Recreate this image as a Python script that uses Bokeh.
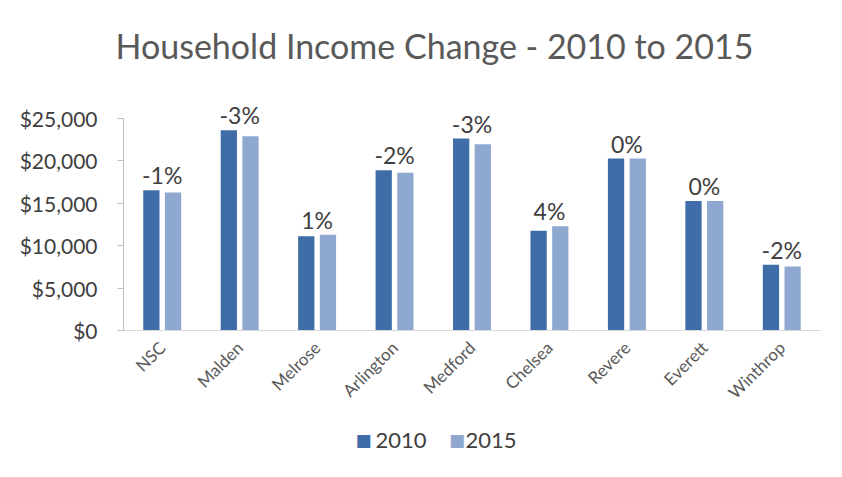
from bokeh.plotting import figure
from bokeh.models import ColumnDataSource, NumeralTickFormatter, FixedTicker
from bokeh.transform import dodge
from bokeh.core.properties import value
from bokeh.embed import file_html
from bokeh.resources import INLINE
import math

cities = ["NSC", "Malden", "Melrose", "Arlington", "Medford", "Chelsea", "Revere", "Everett", "Winthrop"]
income_2010 = [16530, 23620, 11100, 18890, 22640, 11770, 20280, 15270, 7760]
income_2015 = [16260, 22910, 11300, 18600, 21960, 12280, 20280, 15270, 7560]
change_labels = ["-1%", "-3%", "1%", "-2%", "-3%", "4%", "0%", "0%", "-2%"]
series_names = ["2010", "2015"]
y_ticks = [0, 5000, 10000, 15000, 20000, 25000]
title_text = "Household Income Change - 2010 to 2015"

C2010 = "#3E6DA8"
C2015 = "#8FA8D0"
FONT = "Lato"

src = ColumnDataSource(dict(
    city=cities, v2010=income_2010, v2015=income_2015, lab=change_labels,
    top=[max(a, b) for a, b in zip(income_2010, income_2015)],
))

p = figure(x_range=cities, y_range=(0, 25000),
           frame_width=697, frame_height=212,
           output_backend="svg", toolbar_location=None,
           min_border_left=123, min_border_right=22, min_border_top=118, min_border_bottom=147)
p.outline_line_color = None
p.background_fill_color = "white"
p.border_fill_color = "white"
p.xgrid.grid_line_color = None
p.ygrid.grid_line_color = None

p.vbar(x=dodge("city", -0.14, range=p.x_range), top="v2010", width=0.21, source=src,
       fill_color=C2010, line_color=None)
p.vbar(x=dodge("city", 0.14, range=p.x_range), top="v2015", width=0.21, source=src,
       fill_color=C2015, line_color=None)

t = p.text(x="city", y="top", text="lab", source=src, text_align="center", text_baseline="bottom",
           y_offset=-1, text_font=value(FONT), text_font_size="23px", text_color="#404040")
t.level = "annotation"

# title (layout position in chart coordinates)
tt = p.text(x=[-0.103], y=[33608], text=[title_text], text_align="left", text_baseline="alphabetic",
            text_font=value(FONT), text_font_size="34px", text_color="#595959")
tt.level = "annotation"

# legend drawn below the axis labels
lg_sq = p.text(x=[3.099, 4.307], y=[-12971, -12971], text=["\u25A0", "\u25A0"], text_align="center",
               text_baseline="middle", text_font=value("DejaVu Sans"), text_font_size="17px",
               text_color=[C2010, C2015])
lg_sq.level = "annotation"
lg_tx = p.text(x=[3.254, 4.416], y=[-12971, -12971], text=series_names, text_align="left",
               text_baseline="middle", text_font=value(FONT), text_font_size="22px",
               text_color="#404040")
lg_tx.level = "annotation"

p.yaxis.ticker = FixedTicker(ticks=y_ticks)
p.yaxis.formatter = NumeralTickFormatter(format="$0,0")
p.yaxis.major_label_text_font = FONT
p.yaxis.major_label_text_font_size = "21px"
p.yaxis.major_label_text_color = "#404040"
p.yaxis.axis_line_color = "#BFBFBF"
p.yaxis.major_tick_line_color = "#BFBFBF"
p.yaxis.major_tick_out = 6
p.yaxis.major_tick_in = 0
p.yaxis.minor_tick_line_color = None
p.yaxis.major_label_standoff = 20

p.xaxis.axis_line_color = "#D9D9D9"
p.xaxis.major_tick_line_color = None
p.xaxis.major_label_orientation = math.pi / 4
p.xaxis.major_label_text_font = FONT
p.xaxis.major_label_text_font_size = "17px"
p.xaxis.major_label_text_color = "#595959"
p.xaxis.major_label_standoff = 8

open("out.html", "w").write(file_html(p, INLINE))
